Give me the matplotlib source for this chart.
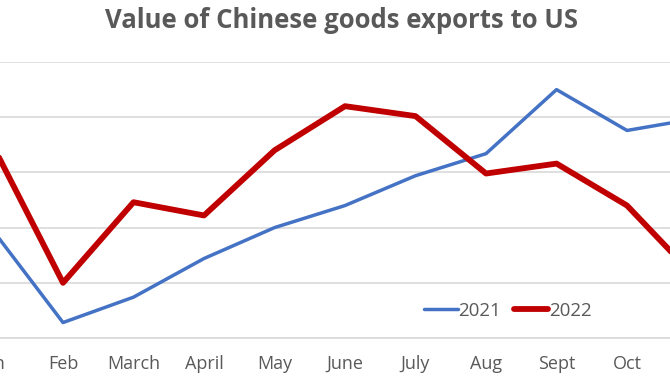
import matplotlib.pyplot as plt

months = ["Jan", "Feb", "March", "April", "May", "June", "July", "Aug", "Sept", "Oct", "Nov"]
exports_2021 = [39.8, 31.4, 33.7, 37.2, 40.0, 42.0, 44.7, 46.7, 52.5, 48.8, 49.9]
exports_2022 = [47.5, 35.0, 42.3, 41.1, 47.0, 51.0, 50.1, 44.9, 45.8, 42.0, 35.3]

plt.rcParams['font.family'] = ['Open Sans', 'DejaVu Sans']

fig = plt.figure(figsize=(6.7, 3.8), dpi=100)
# axes wider than the figure: chart is cropped at both sides
ax = fig.add_axes([-0.0638, 0.1105, 1.1575, 0.7263])

x = range(len(months))
ax.plot(x, exports_2021, color='#4472C4', lw=2.5, label='2021', solid_capstyle='round')
ax.plot(x, exports_2022, color='#C00000', lw=4.2, label='2022', solid_capstyle='round')

ax.set_xlim(-0.5, len(months) - 0.5)
ax.set_ylim(30, 55)
ax.set_yticks([30, 35, 40, 45, 50, 55])
ax.set_yticklabels([])
ax.set_xticks(list(x))
ax.set_xticklabels(months, fontsize=13, color='#595959')
ax.tick_params(axis='both', length=0)
ax.tick_params(axis='x', pad=12)
ax.grid(axis='y', color='#D9D9D9', lw=1.2)
ax.set_axisbelow(True)
for s in ['top', 'right', 'left']:
    ax.spines[s].set_visible(False)
ax.spines['bottom'].set_color('#D9D9D9')
ax.spines['bottom'].set_linewidth(1.2)

leg = ax.legend(loc='center', bbox_to_anchor=(0.758, 0.182), bbox_transform=fig.transFigure,
                ncol=2, frameon=False, fontsize=13.5, handlelength=1.8, handletextpad=0.05,
                columnspacing=0.7)
for t in leg.get_texts():
    t.set_color('#595959')

fig.text(0.509, 0.945, "Value of Chinese goods exports to US", ha='center', va='center',
         fontsize=18.5, fontweight='bold', color='#595959')

fig.savefig('out.png', dpi=100, facecolor='white')
